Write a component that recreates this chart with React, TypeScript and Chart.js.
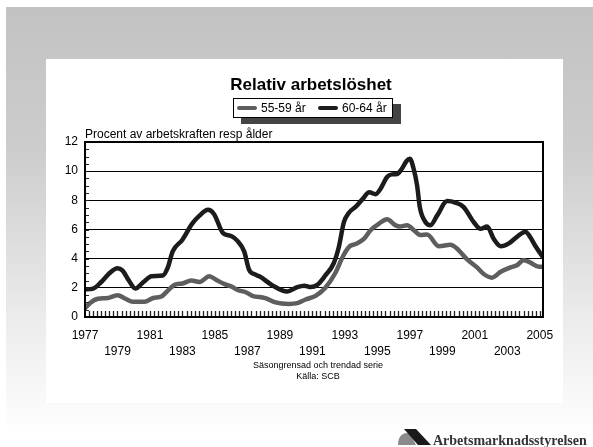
import React, { useEffect, useRef } from "react";
import { Chart, registerables } from "chart.js";

Chart.register(...registerables);

// ---- data ----
const seriesNames = ["55-59 år", "60-64 år"];

const years55 = [
  1977.0, 1977.3, 1977.8, 1978.4, 1979.0, 1979.5, 1979.95, 1980.67, 1981.2, 1981.7,
  1982.0, 1982.5, 1983.0, 1983.55, 1984.05, 1984.66, 1985.07, 1985.6, 1986.0, 1986.4,
  1986.9, 1987.3, 1988.1, 1988.73, 1989.55, 1990.07, 1990.58, 1991.2, 1991.8, 1992.43,
  1992.9, 1993.3, 1993.66, 1994.17, 1994.58, 1995.1, 1995.6, 1996.1, 1996.4, 1996.83,
  1997.25, 1997.65, 1998.06, 1998.8, 1999.5, 1999.9, 2000.53, 2001.14, 2001.55, 2002.06,
  2002.6, 2003.2, 2003.6, 2004.0, 2004.4, 2004.94, 2005.2,
];
const values55 = [
  0.6, 0.95, 1.25, 1.3, 1.5, 1.25, 1.05, 1.05, 1.3, 1.4,
  1.7, 2.2, 2.3, 2.5, 2.4, 2.8, 2.55, 2.25, 2.1, 1.85,
  1.7, 1.45, 1.3, 1.0, 0.9, 0.95, 1.2, 1.45, 2.0, 3.05,
  4.2, 4.85, 5.0, 5.35, 5.95, 6.4, 6.7, 6.3, 6.2, 6.3,
  5.95, 5.62, 5.65, 4.85, 4.95, 4.7, 3.95, 3.4, 2.95, 2.7,
  3.1, 3.4, 3.55, 3.9, 3.75, 3.45, 3.45,
];

const years60 = [
  1977.0, 1977.5, 1978.0, 1978.5, 1979.0, 1979.3, 1979.7, 1980.1, 1980.6, 1981.1,
  1981.8, 1982.1, 1982.4, 1983.0, 1983.6, 1984.05, 1984.57, 1984.95, 1985.5, 1986.0,
  1986.4, 1986.8, 1987.1, 1987.5, 1987.8, 1988.5, 1989.45, 1990.07, 1990.5, 1990.9,
  1991.3, 1991.8, 1992.3, 1992.63, 1992.94, 1993.25, 1993.66, 1994.1, 1994.5, 1994.9,
  1995.2, 1995.6, 1995.9, 1996.2, 1996.5, 1996.8, 1997.0, 1997.25, 1997.45, 1997.62,
  1997.97, 1998.27, 1998.68, 1999.3, 1999.8, 2000.3, 2000.94, 2001.35, 2001.76, 2002.17,
  2002.6, 2003.1, 2003.6, 2004.12, 2004.4, 2004.74, 2005.2,
];
const values60 = [
  1.9, 1.95, 2.4, 3.0, 3.35, 3.2, 2.5, 1.95, 2.4, 2.8,
  2.85, 3.4, 4.5, 5.3, 6.4, 6.95, 7.35, 7.05, 5.75, 5.55,
  5.2, 4.5, 3.25, 2.9, 2.75, 2.2, 1.75, 2.05, 2.15, 2.05,
  2.2, 2.85, 3.65, 4.8, 6.5, 7.15, 7.55, 8.1, 8.55, 8.42,
  8.8, 9.6, 9.78, 9.8, 10.15, 10.7, 10.85, 10.1, 9.0, 7.5,
  6.5, 6.3, 6.95, 7.95, 7.85, 7.55, 6.5, 6.05, 6.2, 5.35,
  4.85, 5.05, 5.5, 5.85, 5.5, 4.85, 4.1,
];

const xTickYears = [
  1977, 1979, 1981, 1983, 1985, 1987, 1989, 1991, 1993, 1995, 1997, 1999, 2001, 2003, 2005,
];
const yTickValues = [0, 2, 4, 6, 8, 10, 12];

const FONT = '"Liberation Sans", Arial, sans-serif';
const GRAY = "#5e5e5e";
const DARK = "#1c1c1c";

const framePlugin = {
  id: "frame",
  afterDraw(chart: any) {
    const { ctx, chartArea } = chart;
    const xs = chart.scales.x;
    const ys = chart.scales.y;
    ctx.save();
    // minor ticks on x axis (quarterly), inside plot
    ctx.strokeStyle = "#222";
    ctx.lineWidth = 1.3;
    ctx.beginPath();
    for (let q = 1977 * 4; q <= 2005.2 * 4; q++) {
      const px = Math.round(xs.getPixelForValue(q / 4)) + 0.5;
      if (px <= chartArea.left + 1 || px >= chartArea.right - 1) continue;
      ctx.moveTo(px, chartArea.bottom);
      ctx.lineTo(px, chartArea.bottom - 6);
    }
    ctx.stroke();
    // minor ticks on y axis
    ctx.lineWidth = 1;
    ctx.beginPath();
    for (let v = 0.5; v < 12; v += 0.5) {
      const py = Math.round(ys.getPixelForValue(v)) + 0.5;
      ctx.moveTo(chartArea.left, py);
      ctx.lineTo(chartArea.left + 4, py);
    }
    ctx.stroke();
    // frame
    ctx.strokeStyle = "#000";
    ctx.lineWidth = 2;
    ctx.strokeRect(
      chartArea.left,
      chartArea.top,
      chartArea.right - chartArea.left,
      chartArea.bottom - chartArea.top
    );
    ctx.restore();
  },
};

function ChartCanvas() {
  const ref = useRef<HTMLCanvasElement | null>(null);
  useEffect(() => {
    if (!ref.current) return;
    const chart = new Chart(ref.current, {
      type: "line",
      data: {
        datasets: [
          {
            label: seriesNames[0],
            data: years55.map((x, i) => ({ x, y: values55[i] })),
            borderColor: GRAY,
            borderWidth: 4.5,
            pointRadius: 0,
            cubicInterpolationMode: "monotone",
            borderCapStyle: "round",
            borderJoinStyle: "round",
            fill: false,
          },
          {
            label: seriesNames[1],
            data: years60.map((x, i) => ({ x, y: values60[i] })),
            borderColor: DARK,
            borderWidth: 4.5,
            pointRadius: 0,
            cubicInterpolationMode: "monotone",
            borderCapStyle: "round",
            borderJoinStyle: "round",
            fill: false,
          },
        ],
      },
      options: {
        animation: false,
        responsive: false,
        devicePixelRatio: 1,
        layout: { padding: { left: 45, right: 50, top: 142, bottom: 90 } },
        plugins: {
          legend: { display: false },
          title: { display: false },
          tooltip: { enabled: false },
        },
        scales: {
          x: {
            type: "linear",
            min: 1977,
            max: 2005.2,
            afterBuildTicks: (s: any) => {
              s.ticks = xTickYears.map((v) => ({ value: v }));
            },
            afterFit: (s: any) => {
              s.height = 40;
            },
            grid: { display: false, drawTicks: false },
            border: { display: false },
            ticks: {
              autoSkip: false,
              maxRotation: 0,
              padding: 11,
              color: "#000",
              font: { family: FONT, size: 12, lineHeight: 1.3 },
              callback: (v: any, i: number) =>
                i % 2 === 0 ? String(v) : ["", String(v)],
            },
          },
          y: {
            min: 0,
            max: 12,
            afterBuildTicks: (s: any) => {
              s.ticks = yTickValues.map((v) => ({ value: v }));
            },
            afterFit: (s: any) => {
              s.width = 40;
            },
            grid: {
              drawTicks: false,
              color: (c: any) =>
                c.tick && (c.tick.value === 0 || c.tick.value === 12)
                  ? "rgba(0,0,0,0)"
                  : "#000",
              lineWidth: 1,
            },
            border: { display: false },
            ticks: {
              padding: 7,
              color: "#000",
              font: { family: FONT, size: 12 },
            },
          },
        },
      },
      plugins: [framePlugin],
    } as any);
    return () => chart.destroy();
  }, []);
  return (
    <canvas
      ref={ref}
      width={593}
      height={447}
      style={{ position: "absolute", left: 0, top: 0, width: 593, height: 447 }}
    />
  );
}

export default function App() {
  const abs: React.CSSProperties = { position: "absolute" };
  return (
    <div
      style={{
        position: "fixed",
        left: 0,
        top: 0,
        width: 593,
        height: 447,
        background: "#fff",
        overflow: "hidden",
        fontFamily: FONT,
      }}
    >
      <div
        style={{
          ...abs,
          left: 6,
          top: 7,
          width: 587,
          height: 418,
          background: "linear-gradient(to bottom, #c2c2c2 0%, #cdcdcd 35%, #ececec 75%, #fdfdfd 100%)",
        }}
      />
      <div style={{ ...abs, left: 46, top: 59, width: 517, height: 344, background: "#fff" }} />

      <ChartCanvas />

      <div
        style={{
          ...abs,
          left: 160,
          width: 302,
          top: 75,
          textAlign: "center",
          fontWeight: "bold",
          fontSize: 17,
          lineHeight: "20px",
          color: "#000",
        }}
      >
        Relativ arbetslöshet
      </div>

      {/* legend shadow + box */}
      <div style={{ ...abs, left: 241, top: 104, width: 160, height: 20, background: "#444" }} />
      <div
        style={{
          ...abs,
          left: 233,
          top: 98,
          width: 158,
          height: 18,
          background: "#fff",
          border: "1px solid #000",
        }}
      >
        <div style={{ ...abs, left: 3, top: 7, width: 20, height: 4, borderRadius: 2, background: GRAY }} />
        <div style={{ ...abs, left: 27, top: 1, fontSize: 12, lineHeight: "16px", color: "#000" }}>
          {seriesNames[0]}
        </div>
        <div style={{ ...abs, left: 84, top: 7, width: 20, height: 4, borderRadius: 2, background: DARK }} />
        <div style={{ ...abs, left: 108, top: 1, fontSize: 12, lineHeight: "16px", color: "#000" }}>
          {seriesNames[1]}
        </div>
      </div>

      <div style={{ ...abs, left: 85, top: 126, fontSize: 12, lineHeight: "16px", color: "#000" }}>
        Procent av arbetskraften resp ålder
      </div>

      <div
        style={{
          ...abs,
          left: 218,
          width: 200,
          top: 360,
          textAlign: "center",
          fontSize: 9,
          lineHeight: "10.5px",
          color: "#000",
        }}
      >
        Säsongrensad och trendad serie
        <br />
        Källa: SCB
      </div>

      <svg style={{ ...abs, left: 396, top: 427 }} width={38} height={20} viewBox="0 0 38 20">
        <path d="M2 18 C2 10 6 6 11 6 C14 6 16 9 17 12 L20 18 Z" fill="#8a8a8a" />
        <path d="M8 2 L20 2 L35 18 L22 18 Z" fill="#1a1a1a" />
      </svg>
      <div
        style={{
          ...abs,
          left: 433,
          top: 433,
          fontFamily: '"Liberation Serif", "Times New Roman", serif',
          fontWeight: "bold",
          fontSize: 14,
          lineHeight: "16px",
          color: "#333",
          whiteSpace: "nowrap",
        }}
      >
        Arbetsmarknadsstyrelsen
      </div>
    </div>
  );
}
